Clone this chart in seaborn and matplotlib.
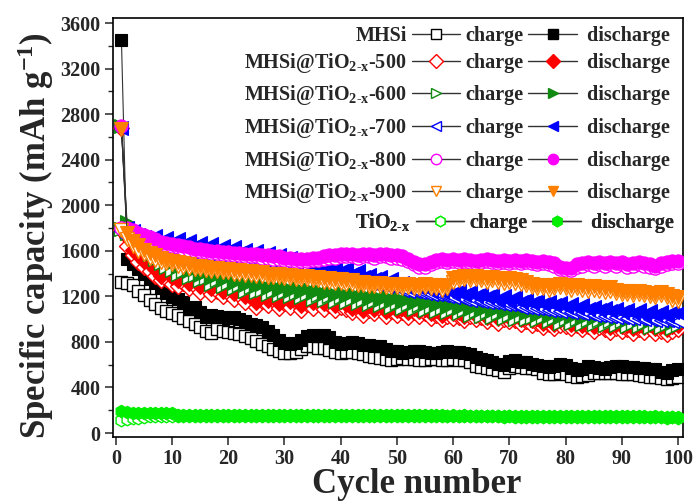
import matplotlib
matplotlib.use("Agg")
import matplotlib.pyplot as plt
import pandas as pd
import seaborn as sns
from matplotlib.lines import Line2D
from matplotlib.ticker import MultipleLocator

# ---------------- data ----------------
cycles = list(range(1, 101))

mhsi_discharge = [3450, 1530, 1480, 1440, 1400, 1350, 1320, 1270, 1230, 1190,
                  1180, 1150, 1090, 1110, 1060, 1020, 1040, 1030, 1020, 1010,
                  1020, 1000, 980, 960, 950, 930, 900, 860, 820, 790,
                  780, 790, 820, 850, 860, 850, 860, 840, 800, 780,
                  790, 800, 790, 770, 770, 760, 760, 740, 720, 720,
                  700, 710, 720, 720, 710, 700, 700, 710, 720, 710,
                  710, 700, 690, 670, 650, 640, 620, 610, 600, 630,
                  640, 620, 620, 610, 600, 590, 580, 590, 610, 600,
                  570, 550, 560, 590, 580, 570, 560, 580, 590, 590,
                  580, 580, 570, 570, 560, 560, 540, 530, 550, 560]
mhsi_charge = [1330, 1320, 1300, 1250, 1210, 1170, 1130, 1100, 1070, 1050,
               1040, 1010, 980, 960, 930, 900, 880, 910, 900, 890,
               880, 870, 850, 830, 810, 780, 760, 740, 720, 700,
               700, 710, 740, 760, 760, 750, 750, 730, 710, 700,
               710, 710, 700, 690, 680, 670, 660, 650, 640, 650,
               660, 650, 650, 640, 640, 650, 650, 640, 640, 650,
               640, 640, 620, 590, 580, 570, 560, 550, 540, 570,
               590, 580, 570, 570, 560, 530, 520, 520, 530, 520,
               500, 490, 500, 510, 530, 530, 530, 530, 530, 520,
               520, 520, 510, 500, 490, 490, 480, 470, 480, 490]

s500_discharge = [2680, 1720, 1610, 1560, 1510, 1480, 1440, 1380, 1420, 1370,
                  1340, 1390, 1320, 1350, 1290, 1330, 1270, 1310, 1250, 1290,
                  1230, 1270, 1200, 1250, 1150, 1210, 1170, 1230, 1140, 1190,
                  1160, 1200, 1120, 1180, 1150, 1190, 1140, 1170, 1120, 1160,
                  1130, 1100, 1140, 1080, 1120, 1090, 1130, 1070, 1110, 1080,
                  1100, 1060, 1100, 1070, 1090, 1050, 1080, 1040, 1070, 1050,
                  1060, 1030, 1070, 1040, 1060, 1020, 1050, 1010, 1040, 1020,
                  1030, 1000, 1020, 990, 1010, 970, 1000, 960, 990, 980,
                  960, 990, 950, 980, 940, 970, 950, 930, 960, 940,
                  950, 920, 950, 930, 960, 920, 940, 910, 940, 950]
s500_charge = [1780, 1640, 1560, 1500, 1460, 1420, 1380, 1340, 1350, 1310,
               1290, 1320, 1270, 1290, 1240, 1270, 1220, 1250, 1200, 1230,
               1180, 1210, 1150, 1190, 1110, 1160, 1120, 1170, 1100, 1140,
               1110, 1150, 1080, 1130, 1100, 1140, 1090, 1120, 1080, 1110,
               1090, 1060, 1100, 1040, 1080, 1050, 1090, 1030, 1070, 1040,
               1060, 1020, 1060, 1030, 1050, 1010, 1040, 1000, 1030, 1010,
               1020, 990, 1030, 1000, 1020, 980, 1010, 970, 1000, 980,
               990, 960, 980, 950, 970, 930, 960, 920, 950, 940,
               920, 950, 910, 940, 900, 930, 910, 890, 920, 900,
               910, 880, 910, 890, 920, 880, 900, 870, 900, 910]

s600_discharge = [2700, 1850, 1800, 1760, 1700, 1640, 1600, 1560, 1520, 1490,
                  1460, 1480, 1420, 1440, 1390, 1410, 1360, 1390, 1340, 1370,
                  1320, 1350, 1300, 1330, 1290, 1310, 1270, 1300, 1260, 1290,
                  1250, 1280, 1240, 1270, 1230, 1260, 1220, 1250, 1210, 1240,
                  1200, 1230, 1190, 1220, 1180, 1210, 1170, 1200, 1160, 1190,
                  1150, 1180, 1140, 1170, 1130, 1160, 1120, 1150, 1110, 1140,
                  1100, 1130, 1090, 1120, 1080, 1110, 1070, 1100, 1060, 1090,
                  1050, 1080, 1050, 1070, 1040, 1070, 1030, 1060, 1020, 1050,
                  1020, 1050, 1010, 1040, 1010, 1040, 1000, 1030, 1000, 1030,
                  990, 1020, 990, 1020, 980, 1010, 980, 1010, 970, 1000]
s600_charge = [1790, 1760, 1720, 1680, 1620, 1570, 1530, 1490, 1460, 1430,
               1400, 1420, 1370, 1390, 1340, 1360, 1310, 1340, 1290, 1320,
               1270, 1300, 1250, 1280, 1240, 1260, 1220, 1250, 1210, 1240,
               1200, 1230, 1190, 1220, 1180, 1210, 1170, 1200, 1160, 1190,
               1150, 1180, 1140, 1170, 1130, 1160, 1120, 1150, 1110, 1140,
               1100, 1130, 1090, 1120, 1080, 1110, 1070, 1100, 1060, 1090,
               1050, 1080, 1040, 1070, 1030, 1060, 1020, 1050, 1010, 1040,
               1000, 1030, 1000, 1020, 990, 1020, 980, 1010, 970, 1000,
               970, 1000, 960, 990, 960, 990, 950, 980, 950, 980,
               940, 970, 940, 970, 930, 960, 930, 960, 920, 950]

s700_discharge = [2680, 1800, 1770, 1740, 1720, 1700, 1730, 1680, 1710, 1670,
                  1700, 1660, 1690, 1640, 1670, 1630, 1660, 1610, 1640, 1600,
                  1630, 1580, 1610, 1570, 1600, 1550, 1580, 1530, 1560, 1520,
                  1540, 1500, 1520, 1480, 1500, 1460, 1480, 1440, 1460, 1420,
                  1440, 1400, 1420, 1370, 1390, 1350, 1370, 1330, 1350, 1310,
                  1320, 1280, 1310, 1270, 1290, 1250, 1280, 1240, 1260, 1230,
                  1250, 1210, 1240, 1200, 1220, 1190, 1210, 1170, 1200, 1160,
                  1190, 1150, 1170, 1140, 1160, 1130, 1150, 1120, 1140, 1110,
                  1130, 1100, 1120, 1090, 1110, 1080, 1100, 1070, 1090, 1060,
                  1080, 1050, 1080, 1040, 1070, 1040, 1060, 1030, 1060, 1050]
s700_charge = [1770, 1720, 1690, 1660, 1640, 1620, 1600, 1590, 1580, 1570,
               1560, 1550, 1540, 1530, 1520, 1510, 1510, 1500, 1500, 1490,
               1490, 1480, 1480, 1470, 1470, 1460, 1460, 1450, 1450, 1440,
               1430, 1430, 1420, 1410, 1410, 1400, 1390, 1390, 1380, 1370,
               1360, 1350, 1340, 1330, 1320, 1310, 1300, 1290, 1290, 1280,
               1260, 1250, 1250, 1240, 1230, 1220, 1220, 1210, 1200, 1190,
               1190, 1180, 1170, 1170, 1160, 1150, 1150, 1140, 1130, 1130,
               1120, 1110, 1110, 1100, 1100, 1090, 1080, 1080, 1070, 1070,
               1060, 1060, 1050, 1050, 1040, 1040, 1030, 1030, 1020, 1020,
               1010, 1010, 1010, 1000, 1000, 990, 990, 990, 980, 980]

s800_discharge = [2700, 1800, 1780, 1760, 1740, 1720, 1700, 1680, 1670, 1660,
                  1650, 1640, 1630, 1620, 1620, 1610, 1600, 1600, 1590, 1590,
                  1580, 1580, 1570, 1570, 1570, 1560, 1560, 1550, 1550, 1540,
                  1540, 1530, 1530, 1530, 1540, 1540, 1550, 1560, 1560, 1570,
                  1570, 1570, 1560, 1570, 1570, 1560, 1570, 1570, 1560, 1560,
                  1550, 1530, 1500, 1480, 1480, 1500, 1520, 1530, 1520, 1530,
                  1520, 1530, 1520, 1510, 1520, 1530, 1520, 1510, 1520, 1510,
                  1520, 1510, 1520, 1510, 1500, 1510, 1500, 1490, 1460, 1450,
                  1450, 1480, 1490, 1500, 1490, 1500, 1490, 1500, 1490, 1500,
                  1480, 1490, 1500, 1490, 1480, 1470, 1490, 1500, 1510, 1510]
s800_charge = [1800, 1760, 1750, 1730, 1710, 1690, 1670, 1660, 1650, 1640,
               1630, 1620, 1610, 1600, 1600, 1590, 1580, 1580, 1570, 1570,
               1560, 1560, 1550, 1550, 1550, 1540, 1540, 1530, 1530, 1520,
               1520, 1510, 1510, 1510, 1520, 1520, 1530, 1540, 1540, 1550,
               1550, 1550, 1540, 1550, 1550, 1540, 1550, 1550, 1540, 1540,
               1530, 1510, 1480, 1460, 1460, 1480, 1500, 1510, 1500, 1510,
               1500, 1510, 1500, 1490, 1500, 1510, 1500, 1490, 1500, 1490,
               1500, 1490, 1500, 1490, 1480, 1490, 1480, 1470, 1440, 1430,
               1430, 1460, 1470, 1480, 1470, 1480, 1470, 1480, 1470, 1480,
               1460, 1470, 1480, 1470, 1460, 1450, 1470, 1480, 1490, 1490]

s900_discharge = [2670, 1760, 1690, 1650, 1610, 1580, 1560, 1540, 1520, 1510,
                  1500, 1490, 1480, 1470, 1470, 1460, 1450, 1450, 1440, 1440,
                  1430, 1430, 1420, 1420, 1410, 1410, 1400, 1400, 1400, 1390,
                  1390, 1380, 1380, 1380, 1370, 1370, 1360, 1360, 1350, 1350,
                  1340, 1340, 1330, 1330, 1320, 1320, 1320, 1310, 1310, 1310,
                  1300, 1310, 1300, 1300, 1310, 1300, 1300, 1290, 1300, 1360,
                  1370, 1380, 1370, 1380, 1370, 1360, 1370, 1360, 1350, 1360,
                  1350, 1340, 1330, 1310, 1300, 1300, 1290, 1300, 1310, 1300,
                  1290, 1300, 1290, 1280, 1290, 1280, 1270, 1280, 1260, 1250,
                  1250, 1240, 1250, 1240, 1230, 1220, 1240, 1220, 1200, 1190]
s900_charge = [1780, 1700, 1640, 1600, 1570, 1540, 1520, 1500, 1490, 1480,
               1470, 1460, 1450, 1440, 1440, 1430, 1420, 1420, 1410, 1410,
               1400, 1400, 1390, 1390, 1380, 1380, 1370, 1370, 1370, 1360,
               1360, 1350, 1350, 1350, 1340, 1340, 1330, 1330, 1320, 1320,
               1310, 1310, 1300, 1300, 1290, 1290, 1290, 1280, 1280, 1280,
               1270, 1280, 1270, 1270, 1280, 1270, 1270, 1260, 1270, 1330,
               1340, 1350, 1340, 1350, 1340, 1330, 1340, 1330, 1320, 1330,
               1320, 1310, 1300, 1280, 1270, 1270, 1260, 1270, 1280, 1270,
               1260, 1270, 1260, 1250, 1260, 1250, 1240, 1250, 1230, 1220,
               1220, 1210, 1220, 1210, 1200, 1190, 1210, 1190, 1170, 1160]

tio2_discharge = [195, 185, 180, 178, 176, 175, 175, 174, 173, 172,
                  158, 160, 158, 160, 158, 160, 158, 160, 158, 160,
                  158, 160, 158, 158, 160, 158, 160, 158, 157, 158,
                  157, 158, 157, 158, 157, 158, 156, 157, 156, 157,
                  156, 157, 156, 157, 155, 156, 155, 156, 155, 156,
                  155, 154, 155, 154, 155, 154, 155, 154, 153, 154,
                  153, 154, 153, 152, 153, 152, 153, 152, 151, 152,
                  151, 150, 151, 150, 151, 150, 149, 150, 149, 150,
                  149, 148, 149, 148, 147, 148, 147, 146, 147, 146,
                  146, 145, 146, 145, 144, 145, 144, 143, 144, 143]
tio2_charge = [110, 120, 128, 135, 140, 145, 148, 150, 152, 153,
               150, 152, 151, 152, 151, 152, 151, 152, 151, 152,
               151, 152, 151, 151, 152, 151, 152, 151, 150, 151,
               150, 151, 150, 151, 150, 151, 149, 150, 149, 150,
               149, 150, 149, 150, 148, 149, 148, 149, 148, 149,
               148, 147, 148, 147, 148, 147, 148, 147, 146, 147,
               146, 147, 146, 145, 146, 145, 146, 145, 144, 145,
               144, 143, 144, 143, 144, 143, 142, 143, 142, 143,
               142, 141, 142, 141, 140, 141, 140, 139, 140, 139,
               139, 138, 139, 138, 137, 138, 137, 136, 137, 136]

sample_names = ["MHSi",
                r"MHSi@TiO$_{2\text{-}x}$-500",
                r"MHSi@TiO$_{2\text{-}x}$-600",
                r"MHSi@TiO$_{2\text{-}x}$-700",
                r"MHSi@TiO$_{2\text{-}x}$-800",
                r"MHSi@TiO$_{2\text{-}x}$-900",
                r"TiO$_{2\text{-}x}$"]
charge_series = [mhsi_charge, s500_charge, s600_charge, s700_charge,
                 s800_charge, s900_charge, tio2_charge]
discharge_series = [mhsi_discharge, s500_discharge, s600_discharge, s700_discharge,
                    s800_discharge, s900_discharge, tio2_discharge]
colors = ["#000000", "#ff0000", "#108a10", "#0000ff", "#ff00ff", "#ff8000", "#00ee00"]
markers = ["s", "D", ">", "<", "o", "v", "h"]
marker_sizes = [9, 8.5, 9.5, 9.5, 9.5, 9.5, 9]
xtick_values = list(range(0, 101, 10))
ytick_values = list(range(0, 3601, 400))

# ---------------- style ----------------
sns.set_style("ticks")
plt.rcParams.update({
    "font.family": ["Liberation Serif", "DejaVu Serif"],
    "font.weight": "bold",
    "axes.labelweight": "bold",
    "mathtext.fontset": "custom",
    "mathtext.rm": "Liberation Serif:bold",
    "mathtext.bf": "Liberation Serif:bold",
    "mathtext.it": "Liberation Serif:italic:bold",
    "mathtext.default": "regular",
})

LINE_C = "#333333"

fig = plt.figure(figsize=(6.94, 5.01), dpi=100)
ax = fig.add_axes([113 / 694, 64 / 501, 570 / 694, 419 / 501])

z = 2
for name, ch, dis, col, mk, ms in zip(sample_names, charge_series, discharge_series,
                                       colors, markers, marker_sizes):
    df = pd.DataFrame({"cycle": cycles, "charge": ch, "discharge": dis})
    sns.lineplot(data=df, x="cycle", y="charge", ax=ax, color=LINE_C, lw=0.8,
                 marker=mk, markersize=ms, markerfacecolor="white",
                 markeredgecolor=col, markeredgewidth=1.0, zorder=z)
    sns.lineplot(data=df, x="cycle", y="discharge", ax=ax, color=LINE_C, lw=0.8,
                 marker=mk, markersize=ms, markerfacecolor=col,
                 markeredgecolor=col, markeredgewidth=0.8, zorder=z + 0.5)
    z += 1

ax.set_xlim(-0.5, 100.9)
ax.set_ylim(-35, 3644)
ax.set_xticks(xtick_values)
ax.set_yticks(ytick_values)
ax.yaxis.set_minor_locator(MultipleLocator(200))
ax.tick_params(axis="both", which="major", direction="out", length=6, width=1.1,
               labelsize=14.5, pad=3)
ax.tick_params(axis="y", which="minor", direction="out", length=3.5, width=1.0)
for lab in ax.get_xticklabels() + ax.get_yticklabels():
    lab.set_fontweight("bold")
for sp in ax.spines.values():
    sp.set_visible(True)
    sp.set_linewidth(1.2)
    sp.set_color("black")

ax.set_xlabel("Cycle number", fontsize=25, fontweight="bold")
ax.set_ylabel(r"Specific capacity (mAh g$^{-1}$)", fontsize=25, fontweight="bold")
ax.xaxis.set_label_coords(0.533, -0.075)
ax.yaxis.set_label_coords(-0.1, 0.48)

# ---------------- legend (one row per sample) ----------------
row_tops_px = [26, 51, 83, 116, 149, 181, 211]
row_dx_px = [0, 0, 0, 0, 0, 0, 4]
for i, (name, col, mk) in enumerate(zip(sample_names, colors, markers)):
    h_ch = Line2D([], [], color=LINE_C, lw=1.0, marker=mk, markersize=7.5,
                  markerfacecolor="white", markeredgecolor=col, markeredgewidth=1.0)
    h_dis = Line2D([], [], color=LINE_C, lw=1.0, marker=mk, markersize=7.5,
                   markerfacecolor=col, markeredgecolor=col)
    h_blank = Line2D([], [], linestyle="none", marker="")
    x_anchor = 1.0 + (723 + row_dx_px[i] - 683) / 570
    y_anchor = 1.0 - (row_tops_px[i] - 18) / 419
    leg = ax.legend([h_ch, h_dis, h_blank], [name, "charge", " discharge"],
                    ncol=3, markerfirst=False, loc="upper right",
                    bbox_to_anchor=(x_anchor, y_anchor), frameon=False,
                    handlelength=2.4, handletextpad=0.25, columnspacing=0.25,
                    borderpad=0, borderaxespad=0,
                    prop={"family": "Liberation Serif", "weight": "bold", "size": 14.5})
    ax.add_artist(leg)

fig.savefig("out.png", dpi=100)
